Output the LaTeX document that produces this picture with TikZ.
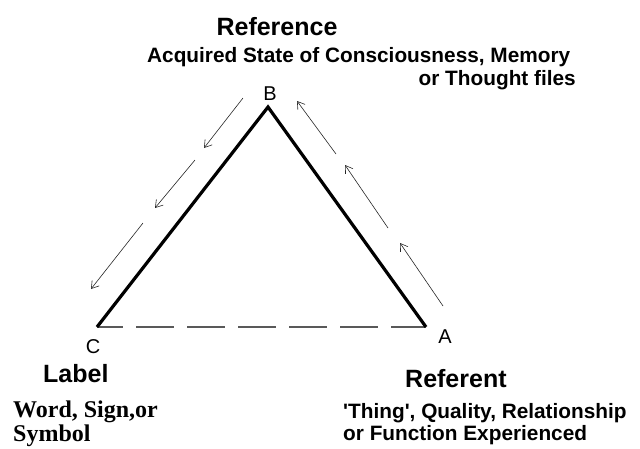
\documentclass[tikz,border=0pt]{standalone}
\usepackage{fontspec}
\setmainfont{Liberation Sans}
\newfontfamily\wordfont{Liberation Serif}
\usetikzlibrary{arrows.meta}
\begin{document}
\begin{tikzpicture}[
                x=1pt,y=-1pt,
                triSide/.style={draw=black,line width=3.2pt,line join=miter},
                triBase/.style={draw=black!65,line width=2pt,
                                dash pattern=on 38pt off 13pt,dash phase=12pt},
                flowArrow/.style={draw=black!85,line width=0.6pt,
                                  -{Straight Barb[length=7pt,width=9pt]}},
                cornerLabel/.style={inner sep=0pt,anchor=base,
                                    font=\fontsize{20}{24}\selectfont},
                headLabel/.style={inner sep=0pt,
                                  font=\fontsize{25}{30}\selectfont\bfseries},
                noteLabel/.style={inner sep=0pt,
                                  font=\fontsize{20.8}{25}\selectfont\bfseries}]
                \useasboundingbox (0,0) rectangle (640,448);
                \coordinate (B) at (268,107);
                \coordinate (C) at (97,327);
                \coordinate (A) at (426,327);
                \draw[triBase] (C) -- (A);
                \draw[triSide] (C) -- (B) -- (A);
                \node[cornerLabel] (nB) at (270,100) {B};
                \node[cornerLabel] (nC) at (93,353) {C};
                \node[cornerLabel] (nA) at (445,343) {A};
                % B to C
                \coordinate (l1s) at (243,98);  \coordinate (l1e) at (204,148);
                \coordinate (l2s) at (195,160); \coordinate (l2e) at (155,208);
                \coordinate (l3s) at (143,223); \coordinate (l3e) at (91,289);
                % A to B
                \coordinate (r1s) at (443,306); \coordinate (r1e) at (400,243);
                \coordinate (r2s) at (388,228); \coordinate (r2e) at (345,165);
                \coordinate (r3s) at (336,154); \coordinate (r3e) at (297,101);
                \foreach \s in {l1,l2,l3,r1,r2,r3}
                    \draw[flowArrow] (\s s) -- (\s e);
                \node[headLabel,anchor=base] (refTitle) at (277,35) {Reference};
                \node[noteLabel,anchor=base west] (refNoteA) at (147,62)
                    {Acquired State of Consciousness, Memory};
                \node[noteLabel,anchor=base east] (refNoteB) at (576,85)
                    {or Thought files};
                \node[headLabel,anchor=base west] (labTitle) at (43,382) {Label};
                \node[inner sep=0pt,anchor=base west,
                      font=\wordfont\fontsize{24}{28}\selectfont\bfseries]
                    (labNoteA) at (13,417) {Word, Sign,or};
                \node[inner sep=0pt,anchor=base west,
                      font=\wordfont\fontsize{24}{28}\selectfont\bfseries]
                    (labNoteB) at (13,441) {Symbol};
                \node[headLabel,anchor=base west] (rntTitle) at (405,387) {Referent};
                \node[noteLabel,anchor=base west] (rntNoteA) at (343,418)
                    {\textquotesingle Thing\textquotesingle, Quality, Relationship};
                \node[noteLabel,anchor=base west] (rntNoteB) at (343,440)
                    {or Function Experienced};
            \end{tikzpicture}
\end{document}
